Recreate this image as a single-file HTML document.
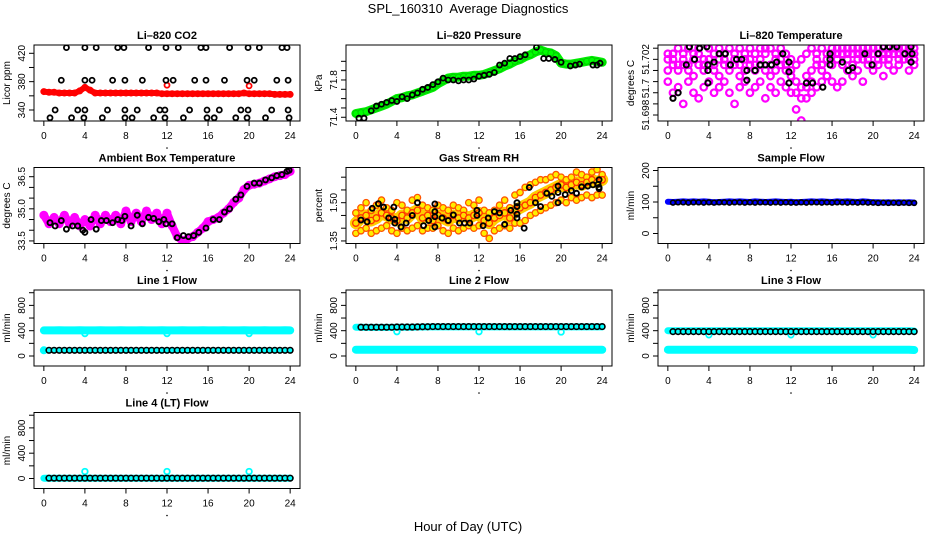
<!DOCTYPE html>
<html><head><meta charset="utf-8"><style>
html,body{margin:0;padding:0;background:#fff;}
svg{display:block;font-family:"Liberation Sans",sans-serif;}
</style></head><body>
<svg id="chart" width="936" height="540" viewBox="0 0 936 540" xmlns="http://www.w3.org/2000/svg">
<rect width="936" height="540" fill="#fff"/>
<text x="468" y="13" text-anchor="middle" font-size="13" style="white-space:pre">SPL_160310  Average Diagnostics</text>
<text x="468" y="531" text-anchor="middle" font-size="13">Hour of Day (UTC)</text>
</svg>
<script>
const HOURS=[0,0.5,1,1.5,2,2.5,3,3.5,4,4.5,5,5.5,6,6.5,7,7.5,8,8.5,9,9.5,10,10.5,11,11.5,12,12.5,13,13.5,14,14.5,15,15.5,16,16.5,17,17.5,18,18.5,19,19.5,20,20.5,21,21.5,22,22.5,23,23.5,24];
const X_TICKS=[0,4,8,12,16,20,24];
// CO2
const CO2_RED=[366,365,365,364,364,364,364,367,372,368,364,364,364,364,364,364,364,364,364,364,364,364,364,363,363,363,363,363,363,363,363,363,363,363,363,363,363,363,363,364,363,363,363,363,363,362,362,362,362];
const CO2_RED_OUT_T=[12,20];
const CO2_RED_OUT_V=[375,374];
const CO2_BLK_T=[2.2,4.0,5.1,7.2,7.8,10.2,11.9,13.1,15.3,15.8,18.1,19.9,21.0,23.2,23.7, 1.7,4.0,4.7,6.7,7.9,9.6,11.9,12.6,14.7,15.8,17.6,19.8,20.5,22.7,23.8, 1.1,3.3,4.0,6.2,7.9,9.1,11.3,11.8,14.2,15.9,17.1,19.2,19.9,22.2,23.8, 0.6,2.7,3.9,5.7,7.9,8.6,10.7,11.8,13.6,15.9,16.6,18.7,19.8,21.6,23.9];
const CO2_BLK_V=[428,428,428,428,428,428,428,428,428,428,428,428,428,428,428, 382,382,382,382,382,382,382,382,382,382,382,382,382,382,382, 340,340,340,340,340,340,340,340,340,340,340,340,340,340,340, 329,329,329,329,329,329,329,329,329,329,329,329,329,329,329];
// Pressure
const PRES_GREEN=[71.44,71.45,71.46,71.48,71.50,71.52,71.54,71.57,71.60,71.61,71.63,71.64,71.66,71.68,71.70,71.72,71.76,71.79,71.82,71.83,71.83,71.84,71.84,71.85,71.85,71.86,71.88,71.90,71.92,71.95,71.97,72.00,72.02,72.05,72.07,72.10,72.12,72.10,72.09,72.06,71.98,71.97,71.97,71.98,71.99,72.00,72.01,72.00,71.99];
const PRES_BLK_T=[0.3,0.8,1.5,2.0,2.5,3.0,3.5,4.0,4.5,5.0,5.5,6.0,6.5,7.0,7.5,8.0,8.5,9.0,9.5,10.0,10.5,11.0,11.5,12.0,12.5,13.0,13.5,14.0,14.5,15.0,15.5,16.0,16.5,17.6,18.3,18.8,19.4,20.0,20.9,21.4,21.8,23.1,23.5,23.8];
const PRES_BLK_V=[71.39,71.39,71.47,71.52,71.54,71.56,71.58,71.57,71.62,71.60,71.64,71.66,71.70,71.72,71.75,71.78,71.82,71.80,71.80,71.79,71.80,71.80,71.81,71.84,71.85,71.86,71.88,71.96,71.98,72.03,72.03,72.05,72.07,72.15,72.03,72.03,72.02,71.99,71.95,71.96,71.97,71.96,71.96,71.98];
// Li-820 temperature
const TEMP_M1=[51.7020,51.7024,51.7028,51.7024,51.7028,51.7024,51.7028,51.7020,51.7028,51.7024,51.7028,51.7024,51.7028,51.7020,51.7028,51.7024,51.7028,51.7024,51.7028,51.7024,51.7028,51.7020,51.7028,51.7024,51.7020,51.7016,51.7020,51.7024,51.7028,51.7024,51.7028,51.7024,51.7028,51.7028,51.7024,51.7028,51.7028,51.7028,51.7028,51.7028,51.7028,51.7028,51.7028,51.7028,51.7028,51.7028,51.7028,51.7028,51.7028];
const TEMP_M2=[51.7012,51.7016,51.7012,51.7016,51.7012,51.7008,51.7016,51.7012,51.7016,51.7012,51.7008,51.7016,51.7012,51.7016,51.7008,51.7012,51.7016,51.7012,51.7016,51.7012,51.7008,51.7012,51.7016,51.7012,51.7008,51.7004,51.7000,51.7008,51.7012,51.7016,51.7012,51.7008,51.7016,51.7020,51.7016,51.7020,51.7016,51.7020,51.7024,51.7020,51.7016,51.7020,51.7024,51.7020,51.7024,51.7020,51.7024,51.7020,51.7024];
const TEMP_M3=[51.7004,51.6996,51.7000,51.6988,51.7004,51.6996,51.6992,51.7000,51.7004,51.6996,51.7000,51.7004,51.6996,51.6988,51.7000,51.7004,51.6996,51.7000,51.7004,51.6992,51.7000,51.6996,51.7004,51.7000,51.6996,51.6984,51.6976,51.6992,51.6996,51.7000,51.7004,51.7008,51.7004,51.7000,51.7004,51.7012,51.7008,51.7012,51.7004,51.7016,51.7012,51.7016,51.7008,51.7016,51.7012,51.7016,51.7020,51.7012,51.7016];
const TEMP_M4=[51.7024,51.7020,51.7016,51.7020,51.7016,51.7020,51.7024,51.7016,51.7020,51.7016,51.7020,51.7020,51.7016,51.7024,51.7016,51.7020,51.7020,51.7016,51.7020,51.7028,51.7016,51.7024,51.7020,51.7016,51.7012,51.6996,51.6992,51.7000,51.7004,51.7020,51.7016,51.7020,51.7024,51.7024,51.7028,51.7024,51.7024,51.7024,51.7020,51.7024,51.7024,51.7024,51.7020,51.7024,51.7028,51.7024,51.7028,51.7024,51.7020];
const TEMP_BLK_T=[0.5,1.0,2.1,2.6,3.1,1.8,3.8,3.9,3.9,3.9,4.5,5.0,5.6,6.1,6.7,7.2,7.7,7.7,8.5,9.0,9.5,10.1,10.6,11.2,11.8,11.8,11.8,13.5,14.1,15.1,15.8,15.8,15.8,17.0,17.6,18.0,19.2,19.9,20.5,21.0,21.6,22.3,23.1,23.7,23.8,23.7];
const TEMP_BLK_V=[51.6992,51.6996,51.7029,51.7020,51.7028,51.7016,51.7029,51.7016,51.7012,51.7003,51.7018,51.7024,51.7024,51.7016,51.7020,51.7020,51.7012,51.7005,51.7012,51.7016,51.7016,51.7016,51.7018,51.7024,51.7018,51.7011,51.7003,51.7003,51.7003,51.7000,51.7024,51.7020,51.7016,51.7018,51.7012,51.7014,51.7024,51.7016,51.7024,51.7029,51.7029,51.7029,51.7024,51.7029,51.7024,51.7018];
// Ambient box temperature
const AMB_MAG=[34.7,34.3,34.6,34.3,34.7,34.3,34.6,34.2,34.5,34.2,34.7,34.3,34.7,34.4,34.7,34.3,34.9,34.4,34.8,34.4,34.9,34.5,34.8,34.3,34.8,34.2,33.7,33.5,33.6,33.7,33.9,34.1,34.4,34.5,34.6,34.8,35.0,35.3,35.5,35.9,36.1,36.15,36.2,36.3,36.4,36.5,36.55,36.6,36.75];
const AMB_BLK_T=[0.6,1.1,1.7,2.2,2.8,3.3,3.8,4.0,4.6,5.1,5.6,6.1,6.7,7.2,7.6,7.9,8.5,9.1,9.6,10.2,10.7,11.2,11.7,11.9,12.5,13.0,13.6,14.1,14.6,15.1,15.8,16.5,17.1,17.6,18.1,18.7,19.2,19.8,20.5,21.0,21.6,22.2,22.7,23.2,23.7,23.9];
const AMB_BLK_V=[34.35,34.2,34.45,34.05,34.2,34.2,34.0,33.9,34.5,34.05,34.45,34.45,34.35,34.5,34.45,34.65,34.2,34.7,34.3,34.6,34.55,34.4,34.5,34.3,34.3,33.65,33.75,33.7,33.75,33.9,34.1,34.5,34.5,34.85,35.0,35.45,35.65,36.05,36.2,36.2,36.35,36.45,36.55,36.6,36.75,36.8];
// Gas stream RH
const RH_LOW=[1.38,1.39,1.40,1.38,1.39,1.40,1.41,1.39,1.38,1.40,1.39,1.40,1.41,1.39,1.40,1.40,1.41,1.39,1.38,1.40,1.39,1.40,1.41,1.40,1.41,1.38,1.36,1.39,1.40,1.41,1.40,1.42,1.42,1.43,1.45,1.46,1.47,1.48,1.49,1.50,1.51,1.50,1.52,1.51,1.52,1.53,1.52,1.53,1.53];
const RH_MID=[1.42,1.44,1.45,1.43,1.44,1.46,1.45,1.44,1.43,1.45,1.44,1.46,1.47,1.44,1.45,1.43,1.45,1.44,1.43,1.45,1.44,1.45,1.44,1.45,1.46,1.43,1.42,1.44,1.45,1.46,1.44,1.47,1.48,1.49,1.50,1.52,1.53,1.54,1.55,1.56,1.57,1.56,1.57,1.58,1.57,1.58,1.59,1.58,1.59];
const RH_HIGH=[1.46,1.48,1.50,1.47,1.49,1.51,1.48,1.47,1.50,1.49,1.47,1.51,1.52,1.49,1.48,1.47,1.49,1.48,1.47,1.49,1.48,1.47,1.50,1.49,1.51,1.47,1.46,1.47,1.49,1.51,1.48,1.53,1.54,1.56,1.57,1.58,1.59,1.59,1.60,1.61,1.60,1.59,1.60,1.62,1.61,1.60,1.62,1.63,1.61];
const RH_BLK_T=[0.5,1.1,1.6,2.2,2.7,3.2,3.7,3.8,3.8,4.4,4.9,5.5,6.0,6.6,7.1,7.7,7.7,7.7,7.7,8.4,9.0,9.5,10.1,10.6,11.1,11.8,11.8,12.4,12.9,13.5,14.0,14.5,15.1,15.7,15.7,15.7,15.7,16.4,16.9,17.5,18.0,18.6,19.1,19.7,19.7,19.7,20.4,21.0,21.5,22.0,22.6,23.1,23.6,23.7,23.7,23.7];
const RH_BLK_V=[1.432,1.425,1.478,1.496,1.483,1.44,1.483,1.435,1.42,1.405,1.42,1.45,1.50,1.41,1.43,1.495,1.465,1.445,1.405,1.44,1.43,1.452,1.42,1.42,1.42,1.47,1.45,1.41,1.44,1.465,1.46,1.415,1.47,1.50,1.485,1.455,1.44,1.40,1.56,1.50,1.485,1.537,1.525,1.50,1.565,1.54,1.532,1.547,1.537,1.562,1.565,1.57,1.572,1.59,1.56,1.555];
// Sample flow
const SF_BLUE=[101,100,101,102,101,102,101,102,101,99,100,101,102,101,102,101,100,102,101,100,101,102,101,100,101,99,100,101,102,101,102,101,100,102,101,102,101,100,102,101,99,99,98,99,98,99,98,99,98];
const SF_BLK=[null,98,99,99,98,99,99,98,99,98,99,99,98,99,99,98,99,98,99,99,98,99,98,99,98,98,99,98,99,99,98,99,98,99,99,98,99,98,99,98,98,97,98,97,98,97,98,97,97];
// Line flows
const L1_CYAN_HI=[405,404,405,406,405,404,405,406,405,404,405,406,405,404,405,406,405,404,405,406,405,404,405,406,405,404,405,406,405,404,405,406,405,404,405,406,405,404,405,406,405,404,405,406,405,404,405,406,405];
const L1_CYAN_LO_T=[0];
const L1_CYAN_LO_V=[90];
const L1_BLK=[null,90,90,90,90,90,90,90,90,90,90,90,90,90,90,90,90,90,90,90,90,90,90,90,90,90,90,90,90,90,90,90,90,90,90,90,90,90,90,90,90,90,90,90,90,90,90,90,90];
const L1_DIP_T=[4,12,20];
const L1_DIP_V=[355,355,355];
const L2_CYAN_HI=[455,455,452,452,452,452,452,452,455,455,455,455,458,458,460,460,460,460,460,460,460,460,460,460,460,460,460,460,460,460,460,460,460,460,460,460,460,460,460,460,460,460,460,460,460,460,460,460,460];
const L2_CYAN_LO=[100,100,100,100,100,100,100,100,100,100,100,100,100,100,100,100,100,100,100,100,100,100,100,100,100,100,100,100,100,100,100,100,100,100,100,100,100,100,100,100,100,100,100,100,100,100,100,100,98];
const L2_BLK=[null,455,455,455,455,455,455,455,458,458,458,458,460,462,462,465,465,465,465,465,465,465,465,465,465,465,465,465,465,465,465,465,465,465,465,465,465,465,465,465,465,465,465,465,465,465,465,465,465];
const L2_DIP_T=[4,12,20];
const L2_DIP_V=[385,385,380];
const L3_CYAN_HI=[400,400,400,400,400,400,400,400,400,400,400,400,400,400,400,400,400,400,400,400,400,400,400,400,400,400,400,400,400,400,400,400,400,400,400,400,400,400,400,400,400,400,400,400,400,400,400,400,395];
const L3_CYAN_LO=[100,100,100,100,100,100,100,100,100,100,100,100,100,100,100,100,100,100,100,100,100,100,100,100,100,100,100,100,100,100,100,100,100,100,100,100,100,100,100,100,100,100,100,100,100,100,100,100,95];
const L3_BLK=[null,385,385,385,385,385,385,385,385,385,385,385,385,385,385,385,385,385,385,385,385,385,385,385,385,385,385,385,385,385,385,385,385,385,385,385,385,385,385,385,385,385,385,385,385,385,385,385,385];
const L3_DIP_T=[4,12,20];
const L3_DIP_V=[335,335,335];
const L4_CYAN_LO=[5,5,5,5,5,5,5,5,5,5,5,5,5,5,5,5,5,5,5,5,5,5,5,5,5,5,5,5,5,5,5,5,5,5,5,5,5,5,5,5,5,5,5,5,5,5,5,5,5];
const L4_BLK=[null,5,5,5,5,5,5,5,5,5,5,5,5,5,5,5,5,5,5,5,5,5,5,5,5,5,5,5,5,5,5,5,5,5,5,5,5,5,5,5,5,5,5,5,5,5,5,5,5];
const L4_SPIKE_T=[4,12,20];
const L4_SPIKE_V=[110,110,110];

const svg=document.getElementById('chart');
const NS='http://www.w3.org/2000/svg';
function mk(tag,attrs,parent){const e=document.createElementNS(NS,tag);for(const k in attrs)e.setAttribute(k,attrs[k]);(parent||svg).appendChild(e);return e;}

function panel(col,row,title,ylab,lo,hi,ticks,labVals,labTexts,key){
  const p={x0:34+312*col,y0:45+122.5*row,w:266,h:76,lo:lo,hi:hi};
  p.g=mk('g',{});
  
  
  p.sx=t=>p.x0+9.85+t*(246.3/24);
  p.sy=v=>p.y0+p.h-(v-lo)/(hi-lo)*p.h;
  const t1=mk('text',{x:p.x0+p.w/2,y:p.y0-6,'text-anchor':'middle','font-size':11,'font-weight':'bold'},p.g);
  t1.textContent=title;
  
  
  const yt=mk('text',{transform:`translate(${p.x0-24},${p.y0+p.h/2}) rotate(-90)`,'text-anchor':'middle','font-size':10},p.g);
  yt.textContent=ylab;
  
  
  X_TICKS.forEach(t=>{
    const x=p.sx(t);
    const tk=mk('line',{x1:x,x2:x,y1:p.y0+p.h,y2:p.y0+p.h+5,stroke:'#000'},p.g);
    
    
    const tl=mk('text',{x:x,y:p.y0+p.h+18,'text-anchor':'middle','font-size':10},p.g);
    tl.textContent=t;
    
    
  });
  const dot=mk('circle',{cx:p.x0+p.w/2,cy:p.y0+p.h+27,r:0.8,fill:'#000'},p.g);
  
  
  ticks.forEach(v=>{
    const y=p.sy(v);
    const tk=mk('line',{x1:p.x0-5,x2:p.x0,y1:y,y2:y,stroke:'#000'},p.g);
    
    
  });
  labVals.forEach((v,i)=>{
    const y=p.sy(v);
    const tl=mk('text',{transform:`translate(${p.x0-9},${y}) rotate(-90)`,'text-anchor':'middle','font-size':10},p.g);
    tl.textContent=labTexts[i];
    
    
  });
  p.clip='clip-'+key;
  const cp=mk('clipPath',{id:p.clip},p.g);
  mk('rect',{x:p.x0,y:p.y0,width:p.w,height:p.h},cp);
  p.data=mk('g',{'clip-path':`url(#${p.clip})`},p.g);
  
  
  return p;
}
function frame(p,key){
  const b=mk('rect',{x:p.x0,y:p.y0,width:p.w,height:p.h,fill:'none',stroke:'#000','stroke-width':1},p.g);
  
  
}
function band(p,ts,vs,color,width,name){
  let d='';
  ts.forEach((t,i)=>{if(vs[i]==null)return;d+=(d?'L':'M')+p.sx(t).toFixed(1)+','+p.sy(vs[i]).toFixed(1);});
  const e=mk('path',{d:d,fill:'none',stroke:color,'stroke-width':width,'stroke-linejoin':'round','stroke-linecap':'round'},p.data);
  
  
}
function pts(p,ts,vs,stroke,fill,r,sw,name){
  ts.forEach((t,i)=>{
    if(vs[i]==null)return;
    const c=mk('circle',{cx:p.sx(t),cy:p.sy(vs[i]),r:r,fill:fill,stroke:stroke,'stroke-width':sw},p.data);
    
    
  });
}

// CO2
let p=panel(0,0,'Li\u2013820 CO2','Licor ppm',324.5,431.7,[340,360,380,400,420],[340,380,420],['340','380','420'],'co2');
band(p,HOURS,CO2_RED,'#ff0000',6,'co2-red-series');
pts(p,HOURS,CO2_RED,'#ff0000','#ff0000',3,1,'co2-red-point');
pts(p,CO2_RED_OUT_T,CO2_RED_OUT_V,'#ff0000','none',2.5,1.8,'co2-red-outlier');
pts(p,CO2_BLK_T,CO2_BLK_V,'#000','none',2.5,1.8,'co2-black-point');
frame(p,'co2');
// Pressure
p=panel(1,0,'Li\u2013820 Pressure','kPa',71.36,72.175,[71.4,71.5,71.6,71.7,71.8,71.9,72.0],[71.4,71.8],['71.4','71.8'],'pressure');
band(p,HOURS,PRES_GREEN,'#00ee00',9,'pressure-green-series');
pts(p,HOURS,PRES_GREEN,'#00cc00','#00ff00',3,1,'pressure-green-point');
pts(p,PRES_BLK_T,PRES_BLK_V,'#000','none',2.5,1.8,'pressure-black-point');
frame(p,'pressure');
// Li-820 temperature
p=panel(2,0,'Li\u2013820 Temperature','degrees C',51.69757,51.70303,[51.698,51.6988,51.6996,51.7004,51.7012,51.702,51.7028],[51.698,51.6999,51.702],['51.698','51.7','51.702'],'li820-temp');
pts(p,HOURS,TEMP_M1,'#ff00ff','none',3.3,2.2,'temp-magenta-point');
pts(p,HOURS,TEMP_M4,'#ff00ff','none',3.3,2.2,'temp-magenta-point');
pts(p,HOURS,TEMP_M2,'#ff00ff','none',3.3,2.2,'temp-magenta-point');
pts(p,HOURS,TEMP_M3,'#ff00ff','none',3.3,2.2,'temp-magenta-point');
pts(p,TEMP_BLK_T,TEMP_BLK_V,'#000','none',2.6,2,'temp-black-point');
frame(p,'li820-temp');
// Ambient
p=panel(0,1,'Ambient Box Temperature','degrees C',33.38,36.93,[33.5,34,34.5,35,35.5,36,36.5],[33.5,35,36.5],['33.5','35.0','36.5'],'ambient');
band(p,HOURS,AMB_MAG,'#ff00ff',8,'ambient-magenta-series');
pts(p,HOURS,AMB_MAG,'#ff00ff','#ff00ff',4,1,'ambient-magenta-point');
pts(p,AMB_BLK_T,AMB_BLK_V,'#000','none',2.5,1.9,'ambient-black-point');
frame(p,'ambient');
// RH
p=panel(1,1,'Gas Stream RH','percent',1.34,1.638,[1.35,1.4,1.45,1.5,1.55,1.6],[1.35,1.5],['1.35','1.50'],'rh');
band(p,HOURS,RH_MID,'#ffcc00',12,'rh-yellow-band');
pts(p,HOURS,RH_LOW,'#ff5500','#ffee00',3.2,1.3,'rh-orange-point');
pts(p,HOURS,RH_HIGH,'#ff5500','#ffee00',3.2,1.3,'rh-orange-point');
pts(p,HOURS,RH_MID,'#ff3300','#ffdd00',3.2,1.3,'rh-orange-point');
pts(p,RH_BLK_T,RH_BLK_V,'#000','none',2.5,1.9,'rh-black-point');
frame(p,'rh');
// Sample flow
p=panel(2,1,'Sample Flow','ml/min',-31.7,209.5,[0,50,100,150,200],[0,100,200],['0','100','200'],'sample-flow');
band(p,HOURS,SF_BLUE,'#0000ff',6,'sample-flow-blue-series');
pts(p,HOURS,SF_BLK,'#000','none',2.4,1.6,'sample-flow-black-point');
frame(p,'sample-flow');
// Flow panels
const FT=[0,200,400,600,800,1000];
function flowPanel(col,row,title,key){return panel(col,row,title,'ml/min',-158,1043,FT,[0,400,800],['0','400','800'],key);}
p=flowPanel(0,2,'Line 1 Flow','line1');
band(p,HOURS,L1_CYAN_HI,'#00ffff',8,'line1-cyan-series');
pts(p,L1_DIP_T,L1_DIP_V,'#00ffff','none',2.8,1.8,'line1-cyan-dip');
pts(p,L1_CYAN_LO_T,L1_CYAN_LO_V,'#00ffff','#00ffff',3.5,1,'line1-cyan-low');
pts(p,HOURS,L1_BLK,'#000','#00ffff',2.8,1.6,'line1-black-point');
frame(p,'line1');
p=flowPanel(1,2,'Line 2 Flow','line2');
band(p,HOURS,L2_CYAN_LO,'#00ffff',8,'line2-cyan-low-series');
band(p,HOURS,L2_CYAN_HI,'#00ffff',7,'line2-cyan-high-series');
pts(p,L2_DIP_T,L2_DIP_V,'#00ffff','none',2.8,1.8,'line2-cyan-dip');
pts(p,HOURS,L2_BLK,'#000','#00ffff',2.8,1.6,'line2-black-point');
frame(p,'line2');
p=flowPanel(2,2,'Line 3 Flow','line3');
band(p,HOURS,L3_CYAN_LO,'#00ffff',8,'line3-cyan-low-series');
band(p,HOURS,L3_CYAN_HI,'#00ffff',7,'line3-cyan-high-series');
pts(p,L3_DIP_T,L3_DIP_V,'#00ffff','none',2.8,1.8,'line3-cyan-dip');
pts(p,HOURS,L3_BLK,'#000','#00ffff',2.8,1.6,'line3-black-point');
frame(p,'line3');
p=flowPanel(0,3,'Line 4 (LT) Flow','line4');
band(p,HOURS,L4_CYAN_LO,'#00ffff',7,'line4-cyan-series');
pts(p,L4_SPIKE_T,L4_SPIKE_V,'#00ffff','none',2.8,1.8,'line4-cyan-spike');
pts(p,HOURS,L4_BLK,'#000','#00ffff',2.8,1.6,'line4-black-point');
frame(p,'line4');
</script>
</body></html>
